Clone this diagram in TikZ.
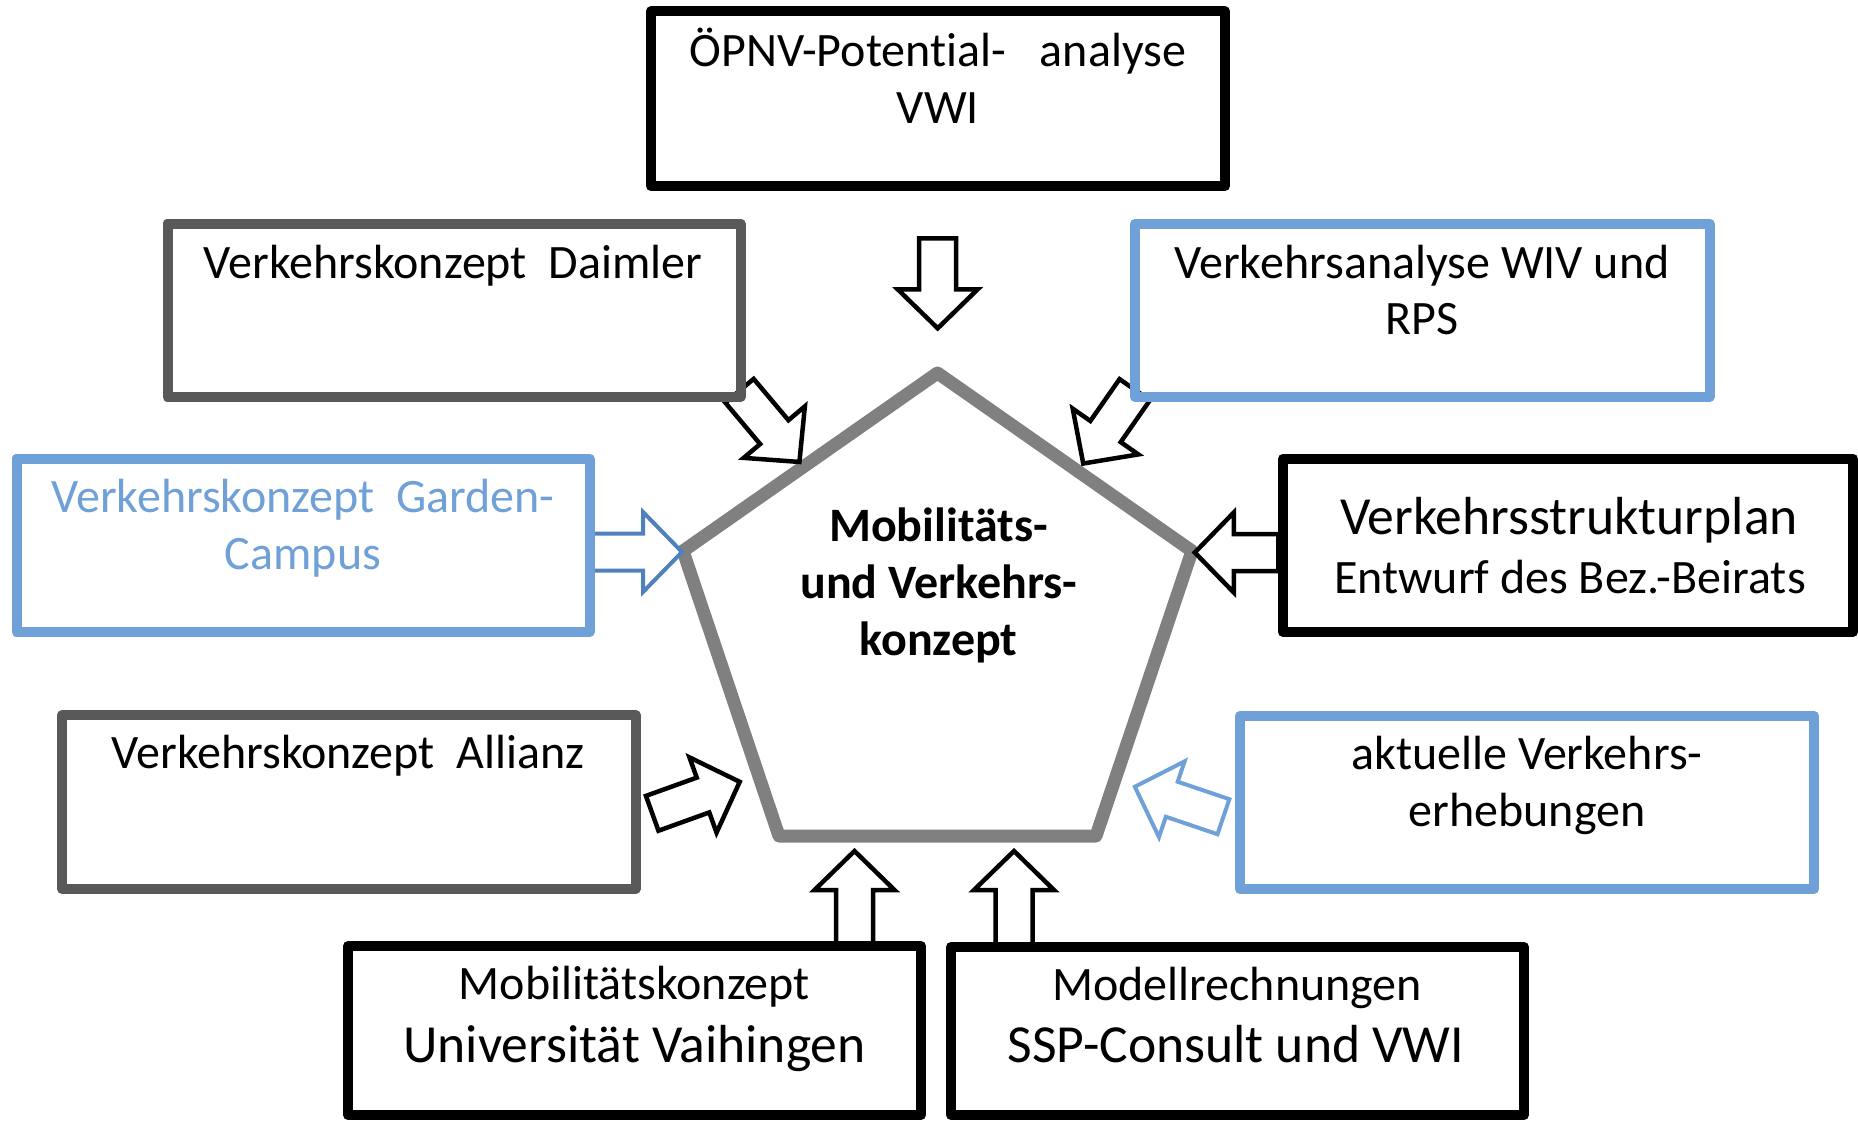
\documentclass[tikz,border=0pt]{standalone}
\usepackage{fontspec}
\setmainfont{Carlito}[Ligatures=NoCommon]
\definecolor{boxgray}{HTML}{595959}
\definecolor{boxblue}{HTML}{70A0D8}
\definecolor{arrblue}{HTML}{4F81BD}
\definecolor{pentgray}{HTML}{808080}
\tikzset{
  bx/.style 2 args={draw, line width=5pt, line join=round, inner sep=0pt, minimum width=#1, minimum height=#2},
  barr/.style={draw=black, line width=2.25pt, fill=white},
  txt/.style={anchor=base, inner sep=0pt, font=\fontsize{24}{29}\selectfont},
  bigtxt/.style={anchor=base, inner sep=0pt, font=\fontsize{26.8}{32}\selectfont},
  ctxt/.style={anchor=base, inner sep=0pt, font=\fontsize{24}{29}\selectfont\bfseries},
}
% block arrow: style, tail centre, direction angle, length
\newcommand\blockarr[4]{%
  \draw[#1, shift={(#2)}, rotate=#3] (0,-18.5) -- ({#4-39},-18.5) -- ({#4-39},-40) -- (#4,0)
    -- ({#4-39},40) -- ({#4-39},18.5) -- (0,18.5) -- cycle;}
\begin{document}
\begin{tikzpicture}[x=0.5pt, y=-0.5pt]
\useasboundingbox (0,0) rectangle (1858,1120);
\fill[white] (0,0) rectangle (1858,1120);

% central pentagon
\coordinate (pT) at (937.5,373);
\coordinate (pR) at (1192,551);
\coordinate (pBR) at (1096,836);
\coordinate (pBL) at (779,836);
\coordinate (pL) at (683,551);
\draw[pentgray, line width=6.5pt, line join=round] (pT) -- (pR) -- (pBR) -- (pBL) -- (pL) -- cycle;
\node[ctxt] (c1) at (938.5,541.7) {Mobilitäts-};
\node[ctxt] (c2) at (939,598.3) {und Verkehrs-};
\node[ctxt] (c3) at (938.5,655) {konzept};

% arrows
\blockarr{barr}{937.7,238.3}{-90}{90}
\blockarr{barr}{739.5,390.8}{-49.9}{93}
\blockarr{barr}{1134.7,389.7}{-124.9}{90}
\blockarr{barr, draw=arrblue, line width=2pt}{590,552}{0}{92}
\blockarr{barr}{1278.3,552.5}{180}{83.5}
\blockarr{barr}{652.2,813.3}{19.8}{93}
\blockarr{barr, draw=boxblue, line width=2pt}{1223.4,816.7}{161.3}{93.5}
\blockarr{barr}{854.5,945}{90}{94}
\blockarr{barr}{1014,945}{90}{94}

% boxes
\node[bx={287pt}{87.3pt}, draw=black] (b1) at (938,98.7) {};
\node[bx={286.5pt}{86.7pt}, draw=boxgray] (b2) at (454,310.3) {};
\node[bx={287.25pt}{86.7pt}, draw=boxblue] (b3) at (1422.3,310.3) {};
\node[bx={286.5pt}{86.7pt}, draw=boxblue] (b4) at (303,545.3) {};
\node[bx={285pt}{86.7pt}, draw=black] (b5) at (1568,545.3) {};
\node[bx={286.75pt}{87pt}, draw=boxgray] (b6) at (348.8,802) {};
\node[bx={287pt}{86.65pt}, draw=boxblue] (b7) at (1527,802.3) {};
\node[bx={286.5pt}{84.5pt}, draw=black] (b8) at (634.5,1030.5) {};
\node[bx={286.5pt}{84pt}, draw=black] (b9) at (1237.5,1031) {};

% texts
\node[txt] (t1a) at (938,66) {ÖPNV-Potential-\hspace{17pt}analyse};
\node[txt] (t1b) at (938,123) {VWI};
\node[txt] (t2a) at (453,278) {Verkehrskonzept\ \ Daimler};
\node[txt] (t3a) at (1422,278) {Verkehrsanalyse WIV und};
\node[txt] (t3b) at (1422,334) {RPS};
\node[txt, text=boxblue] (t4a) at (303,512) {Verkehrskonzept\ \ Garden-};
\node[txt, text=boxblue] (t4b) at (303,569) {Campus};
\node[bigtxt] (t5a) at (1569,534) {Verkehrsstrukturplan};
\node[txt] (t5b) at (1570,593) {Entwurf des Bez.-Beirats};
\node[txt] (t6a) at (348,768) {Verkehrskonzept\ \ Allianz};
\node[txt] (t7a) at (1527,769) {aktuelle Verkehrs-};
\node[txt] (t7b) at (1527,826) {erhebungen};
\node[txt] (t8a) at (634.5,999) {Mobilitätskonzept};
\node[bigtxt] (t8b) at (634.5,1062) {Universität Vaihingen};
\node[txt] (t9a) at (1237,1000) {Modellrechnungen};
\node[bigtxt] (t9b) at (1236,1062) {SSP-Consult und VWI};
\end{tikzpicture}
\end{document}
